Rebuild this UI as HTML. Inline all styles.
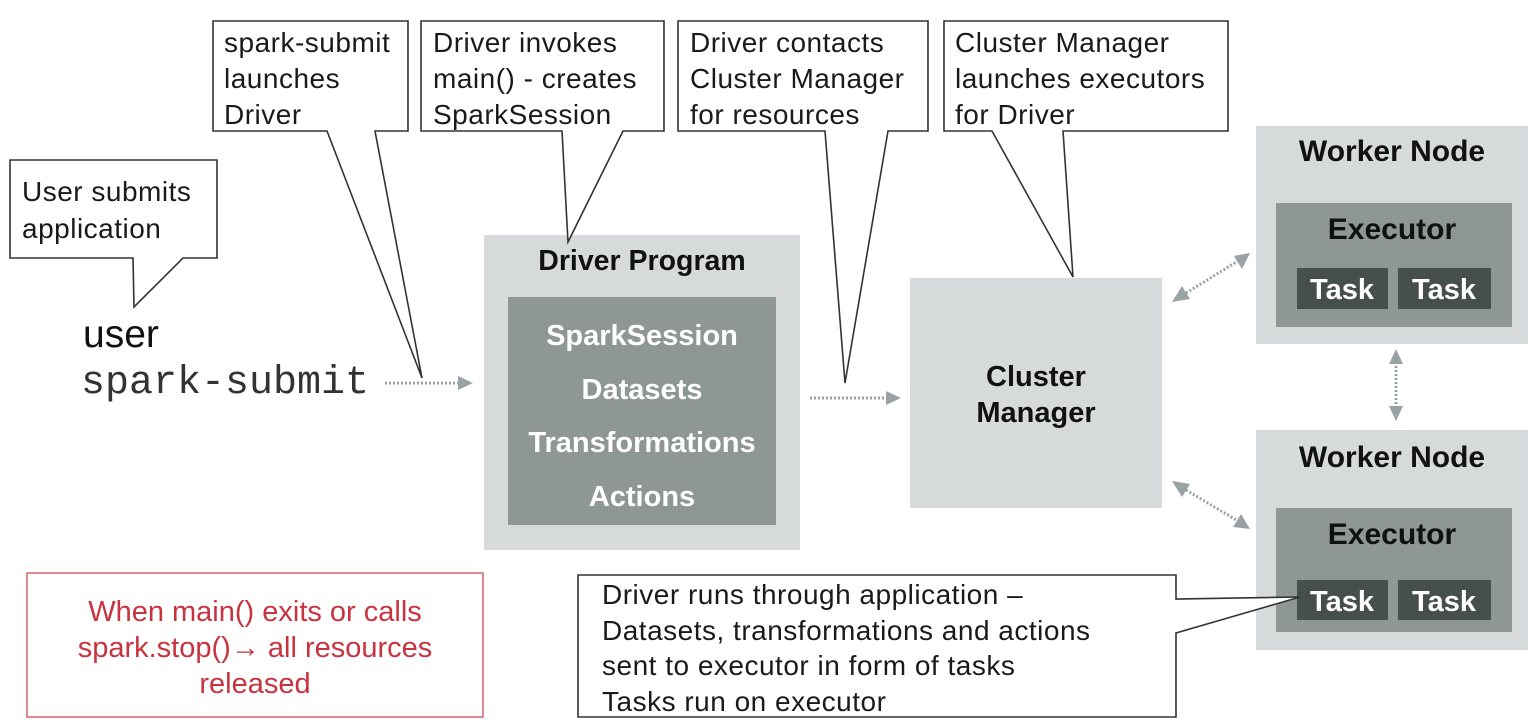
<!DOCTYPE html>
<html><head><meta charset="utf-8"><style>
html,body{margin:0;padding:0;background:#fff;}
svg{display:block;}
text{font-family:"Liberation Sans",Arial,sans-serif;}
.c{font-size:28px;letter-spacing:0.5px;fill:#1a1a1a;}
.b{font-weight:bold;font-size:29px;text-anchor:middle;}
.h{font-size:30px;}
.w{fill:#fff;}
.k{fill:#111;}
.co{fill:#fff;stroke:#333;stroke-width:1.6;}
.dot{stroke:#9aa3a3;stroke-width:3;stroke-dasharray:2 2;fill:none;}
.ah{fill:#9aa3a3;}
</style></head><body>
<svg width="1538" height="726" viewBox="0 0 1538 726" xmlns="http://www.w3.org/2000/svg">
<!-- Driver program -->
<rect x="484" y="235" width="316" height="315" fill="#d6dadb"/>
<rect x="508" y="297" width="268" height="228" fill="#8e9696"/>
<text class="b k" x="642" y="270" style="font-size:28.5px">Driver Program</text>
<text class="b w" x="642" y="345">SparkSession</text>
<text class="b w" x="642" y="399">Datasets</text>
<text class="b w" x="642" y="452">Transformations</text>
<text class="b w" x="642" y="506">Actions</text>
<!-- Cluster Manager -->
<rect x="910" y="278" width="252" height="230" fill="#d6dadb"/>
<text class="b k" x="1036" y="386">Cluster</text>
<text class="b k" x="1036" y="422">Manager</text>
<!-- Worker 1 -->
<rect x="1256" y="126" width="272" height="218" fill="#d6dadb"/>
<text class="b k h" x="1392" y="161">Worker Node</text>
<rect x="1276" y="203" width="236" height="124" fill="#8e9696"/>
<text class="b k h" x="1392" y="239">Executor</text>
<rect x="1297" y="268" width="91" height="41" fill="#464e4e"/>
<rect x="1398" y="268" width="93" height="41" fill="#464e4e"/>
<text class="b w" x="1342" y="299">Task</text>
<text class="b w" x="1444" y="299">Task</text>
<!-- Worker 2 -->
<rect x="1256" y="430" width="272" height="220" fill="#d6dadb"/>
<text class="b k h" x="1392" y="467">Worker Node</text>
<rect x="1276" y="508" width="236" height="124" fill="#8e9696"/>
<text class="b k h" x="1392" y="544">Executor</text>
<rect x="1297" y="580" width="91" height="40" fill="#464e4e"/>
<rect x="1398" y="580" width="93" height="40" fill="#464e4e"/>
<text class="b w" x="1342" y="611">Task</text>
<text class="b w" x="1444" y="611">Task</text>
<!-- arrows -->
<line class="dot" x1="385" y1="383" x2="458" y2="383"/>
<polygon class="ah" points="458,376 473,383 458,390"/>
<line class="dot" x1="810" y1="398" x2="886" y2="398"/>
<polygon class="ah" points="886,391 901,398 886,405"/>
<line class="dot" x1="1186" y1="293" x2="1238" y2="261"/>
<polygon class="ah" points="1172,302 1182,286 1190,299"/>
<polygon class="ah" points="1250,253 1234,256 1242,269"/>
<line class="dot" x1="1186" y1="490" x2="1238" y2="521"/>
<polygon class="ah" points="1172,481 1190,484 1182,497"/>
<polygon class="ah" points="1250,529 1233,527 1241,514"/>
<line class="dot" x1="1396" y1="362" x2="1396" y2="408"/>
<polygon class="ah" points="1389,364 1396,349 1403,364"/>
<polygon class="ah" points="1389,406 1396,421 1403,406"/>
<!-- callouts -->
<polygon class="co" points="10,160 217,160 217,258 183,258 134,307 133,258 10,258"/>
<text class="c" x="22" y="201">User submits</text>
<text class="c" x="22" y="238">application</text>
<polygon class="co" points="213,21 408,21 408,131 375,131 422,378 327,131 213,131"/>
<text class="c" x="224" y="52">spark-submit</text>
<text class="c" x="224" y="88">launches</text>
<text class="c" x="224" y="124">Driver</text>
<polygon class="co" points="421,21 664,21 664,131 623,131 568,242 562,131 421,131"/>
<text class="c" x="433" y="52">Driver invokes</text>
<text class="c" x="433" y="88">main() - creates</text>
<text class="c" x="433" y="124">SparkSession</text>
<polygon class="co" points="678,21 928,21 928,131 888,131 845,383 825,131 678,131"/>
<text class="c" x="690" y="52">Driver contacts</text>
<text class="c" x="690" y="88">Cluster Manager</text>
<text class="c" x="690" y="124">for resources</text>
<polygon class="co" points="944,21 1228,21 1228,131 1063,131 1073,277 992,131 944,131"/>
<text class="c" x="955" y="52">Cluster Manager</text>
<text class="c" x="955" y="88">launches executors</text>
<text class="c" x="955" y="124">for Driver</text>
<polygon class="co" points="578,575 1176,575 1176,599 1300,597 1176,633 1176,717 578,717"/>
<text class="c" x="602" y="604">Driver runs through application –</text>
<text class="c" x="602" y="640">Datasets, transformations and actions</text>
<text class="c" x="602" y="675">sent to executor in form of tasks</text>
<text class="c" x="602" y="711">Tasks run on executor</text>
<!-- user -->
<text x="83" y="347" style="font-size:39px;fill:#111">user</text>
<text x="81" y="393" style="font-family:'Liberation Mono',monospace;font-size:40px;fill:#333">spark-submit</text>
<!-- red box -->
<rect x="27" y="573" width="456" height="144" fill="#fff" stroke="#d9606a" stroke-width="1.5"/>
<text x="255" y="621" style="font-size:29px;fill:#c9323f;text-anchor:middle">When main() exits or calls</text>
<text x="255" y="657" style="font-size:29px;fill:#c9323f;text-anchor:middle">spark.stop()<tspan font-weight="bold">→</tspan> all resources</text>
<text x="255" y="693" style="font-size:29px;fill:#c9323f;text-anchor:middle">released</text>
</svg>
</body></html>
